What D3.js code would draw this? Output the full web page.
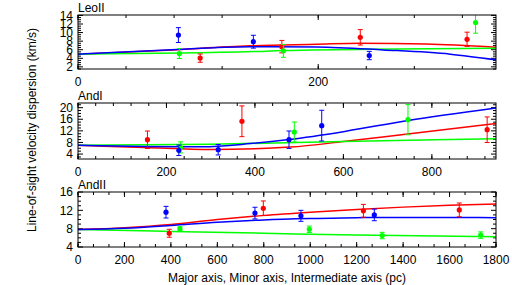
<!DOCTYPE html>
<html>
<head>
<meta charset="utf-8">
<script src="https://cdn.jsdelivr.net/npm/d3@7"></script>
<style>
  body { margin: 0; background: #fff; }
  svg { display: block; font-family: "Liberation Sans", Arial, sans-serif; }
</style>
</head>
<body>
<svg id="chart" width="512" height="285"></svg>
<script>
// --- Data (x in pc, dispersion in km/s, error) ---
// red = major axis, green = minor axis, blue = intermediate axis
const leoIIMajor = [[101.7, 4.04, 0.97], [169.7, 6.72, 1.45], [235, 8.89, 1.8], [323.9, 8.43, 1.66]];
const leoIIMinor = [[84.4, 5.1, 1.15], [171, 5.73, 1.5], [331, 12.35, 2.5]];
const leoIIInter = [[83.6, 9.42, 1.73], [146, 7.87, 1.5], [242.5, 4.64, 0.97]];

const andIMajor = [[157, 8.95, 3.0], [370.6, 15.3, 5.3], [925, 12.4, 4.4]];
const andIMinor = [[232, 6.3, 1.9], [489, 11.6, 3.45], [746, 15.85, 5.2]];
const andIInter = [[228, 5.3, 1.8], [317, 5.5, 1.8], [477, 8.95, 3.0], [551, 13.8, 5.3]];

const andIIMajor = [[393, 7.0, 0.87], [798, 12.45, 1.6], [1229, 11.9, 1.4], [1642, 12.1, 1.5]];
const andIIMinor = [[439, 8.0, 0.4], [996, 7.87, 0.7], [1310, 6.5, 0.7], [1734, 6.6, 0.7]];
const andIIInter = [[379, 11.6, 1.27], [762, 11.4, 1.27], [960, 10.8, 1.2], [1276, 11.0, 1.27]];

// model curves
const leoIIMajorModel = [[0, 4.96], [74, 5.9], [143, 6.9], [199, 7.27], [235, 7.5], [290, 7.34], [348, 6.58]];
const leoIIMinorModel = [[0, 4.96], [146, 5.56], [171, 5.8], [348, 6.35]];
const leoIIInterModel = [[0, 4.96], [74, 5.96], [143, 6.72], [199, 6.65], [254, 5.96], [310, 4.96], [348, 3.65]];

const andIMajorModel = [[0, 7.0], [150, 6.3], [300, 5.6], [400, 5.8], [480, 6.4], [600, 8.3], [750, 11.0], [945, 14.5]];
const andIMinorModel = [[0, 7.0], [300, 7.4], [600, 8.3], [945, 9.3]];
const andIInterModel = [[0, 7.0], [150, 6.6], [280, 6.5], [389, 7.6], [477, 9.0], [603, 11.8], [746, 15.6], [945, 19.9]];

const andIIMajorModel = [[0, 7.8], [200, 8.2], [400, 8.9], [600, 10.0], [800, 10.9], [1000, 11.6], [1200, 12.2], [1400, 12.7], [1600, 13.1], [1800, 13.4]];
const andIIMinorModel = [[0, 7.8], [400, 7.4], [800, 7.0], [1200, 6.6], [1800, 6.25]];
const andIIInterModel = [[0, 7.8], [200, 8.1], [400, 8.7], [600, 9.4], [800, 9.9], [1000, 10.2], [1200, 10.4], [1400, 10.45], [1600, 10.45], [1800, 10.4]];

const leoIIYTicks = [2, 4, 6, 8, 10, 12, 14];
const andIYTicks = [4, 8, 12, 16, 20];
const andIIYTicks = [4, 8, 12, 16];
const leoIIXTicks = [0, 200];
const andIXTicks = [0, 200, 400, 600, 800];
const andIIXTicks = [0, 200, 400, 600, 800, 1000, 1200, 1400, 1600, 1800];

const colors = { major: "#ff0000", minor: "#00ff00", inter: "#0000ff" };

// --- Layout ---
const left = 78, right = 496;
const panels = [
    { name: "LeoII", top: 15, bottom: 69, xMax: 348, yDom: [1.5, 14.1], yTicks: leoIIYTicks, yMinor: 0.5,
      xTicks: leoIIXTicks, xMinor: 40,
      series: [
        { c: colors.major, model: leoIIMajorModel, pts: leoIIMajor },
        { c: colors.minor, model: leoIIMinorModel, pts: leoIIMinor },
        { c: colors.inter, model: leoIIInterModel, pts: leoIIInter }] },
    { name: "AndI", top: 103, bottom: 159, xMax: 945, yDom: [2.3, 21.6], yTicks: andIYTicks, yMinor: 1,
      xTicks: andIXTicks, xMinor: 40,
      series: [
        { c: colors.major, model: andIMajorModel, pts: andIMajor },
        { c: colors.minor, model: andIMinorModel, pts: andIMinor },
        { c: colors.inter, model: andIInterModel, pts: andIInter }] },
    { name: "AndII", top: 192, bottom: 247, xMax: 1800, yDom: [4, 16], yTicks: andIIYTicks, yMinor: 1,
      xTicks: andIIXTicks, xMinor: 200 / 3,
      series: [
        { c: colors.major, model: andIIMajorModel, pts: andIIMajor },
        { c: colors.minor, model: andIIMinorModel, pts: andIIMinor },
        { c: colors.inter, model: andIIInterModel, pts: andIIInter }] }
];

const svg = d3.select("#chart");
const defs = svg.append("defs");

panels.forEach((p, i) => {
    const x = d3.scaleLinear().domain([0, p.xMax]).range([left, right]);
    const y = d3.scaleLinear().domain(p.yDom).range([p.bottom, p.top]);
    const g = svg.append("g");

    defs.append("clipPath").attr("id", "clip" + i)
        .append("rect")
        .attr("x", left).attr("y", p.top)
        .attr("width", right - left).attr("height", p.bottom - p.top);

    // minor ticks (all four sides, inward)
    const xMinorVals = d3.range(0, p.xMax + 0.01, p.xMinor);
    const yMinorVals = d3.range(Math.ceil(p.yDom[0] / p.yMinor) * p.yMinor, p.yDom[1] + 0.001, p.yMinor);
    const tickG = g.append("g").attr("stroke", "#000").attr("stroke-width", 1);
    xMinorVals.forEach(v => {
        tickG.append("line").attr("x1", x(v)).attr("x2", x(v)).attr("y1", p.bottom).attr("y2", p.bottom - 3);
        tickG.append("line").attr("x1", x(v)).attr("x2", x(v)).attr("y1", p.top).attr("y2", p.top + 3);
    });
    p.xTicks.forEach(v => {
        tickG.append("line").attr("x1", x(v)).attr("x2", x(v)).attr("y1", p.bottom).attr("y2", p.bottom - 5);
        tickG.append("line").attr("x1", x(v)).attr("x2", x(v)).attr("y1", p.top).attr("y2", p.top + 5);
    });
    yMinorVals.forEach(v => {
        const big = p.yTicks.some(t => Math.abs(t - v) < 1e-6);
        const len = big ? 5 : 3;
        tickG.append("line").attr("x1", left).attr("x2", left + len).attr("y1", y(v)).attr("y2", y(v));
        tickG.append("line").attr("x1", right).attr("x2", right - len).attr("y1", y(v)).attr("y2", y(v));
    });

    // tick labels
    g.append("g").selectAll("text").data(p.yTicks).join("text")
        .attr("x", left - 5).attr("y", d => y(d)).attr("dy", "0.35em")
        .attr("text-anchor", "end").attr("font-size", 12).text(d => d);
    g.append("g").selectAll("text").data(p.xTicks).join("text")
        .attr("x", d => x(d)).attr("y", p.bottom + 13).attr("dy", "0.35em")
        .attr("text-anchor", "middle").attr("font-size", 12).text(d => d);

    // panel name
    g.append("text").attr("x", left).attr("y", p.top - 3)
        .attr("font-size", 12).text(p.name);

    const plot = g.append("g").attr("clip-path", `url(#clip${i})`);
    const line = d3.line().x(d => x(d[0])).y(d => y(d[1])).curve(d3.curveMonotoneX);

    p.series.forEach(s => {
        plot.append("path").datum(s.model)
            .attr("fill", "none").attr("stroke", s.c).attr("stroke-width", 1.5)
            .attr("d", line);
    });
    p.series.forEach(s => {
        const eg = plot.append("g").attr("stroke", s.c).attr("stroke-width", 1);
        s.pts.forEach(d => {
            const px = x(d[0]);
            eg.append("line").attr("x1", px).attr("x2", px).attr("y1", y(d[1] - d[2])).attr("y2", y(d[1] + d[2]));
            eg.append("line").attr("x1", px - 2.5).attr("x2", px + 2.5).attr("y1", y(d[1] - d[2])).attr("y2", y(d[1] - d[2]));
            eg.append("line").attr("x1", px - 2.5).attr("x2", px + 2.5).attr("y1", y(d[1] + d[2])).attr("y2", y(d[1] + d[2]));
        });
        plot.append("g").selectAll("circle").data(s.pts).join("circle")
            .attr("cx", d => x(d[0])).attr("cy", d => y(d[1])).attr("r", 2.6)
            .attr("fill", s.c);
    });

    // frame
    g.append("rect").attr("x", left).attr("y", p.top)
        .attr("width", right - left).attr("height", p.bottom - p.top)
        .attr("fill", "none").attr("stroke", "#000").attr("stroke-width", 1);
});

// axis titles
svg.append("text")
    .attr("transform", "translate(36,130) rotate(-90)")
    .attr("text-anchor", "middle").attr("font-size", 12)
    .text("Line-of-sight velocity dispersion (km/s)");
svg.append("text")
    .attr("x", (left + right) / 2).attr("y", 282)
    .attr("text-anchor", "middle").attr("font-size", 12)
    .text("Major axis, Minor axis, Intermediate axis (pc)");
</script>
</body>
</html>
